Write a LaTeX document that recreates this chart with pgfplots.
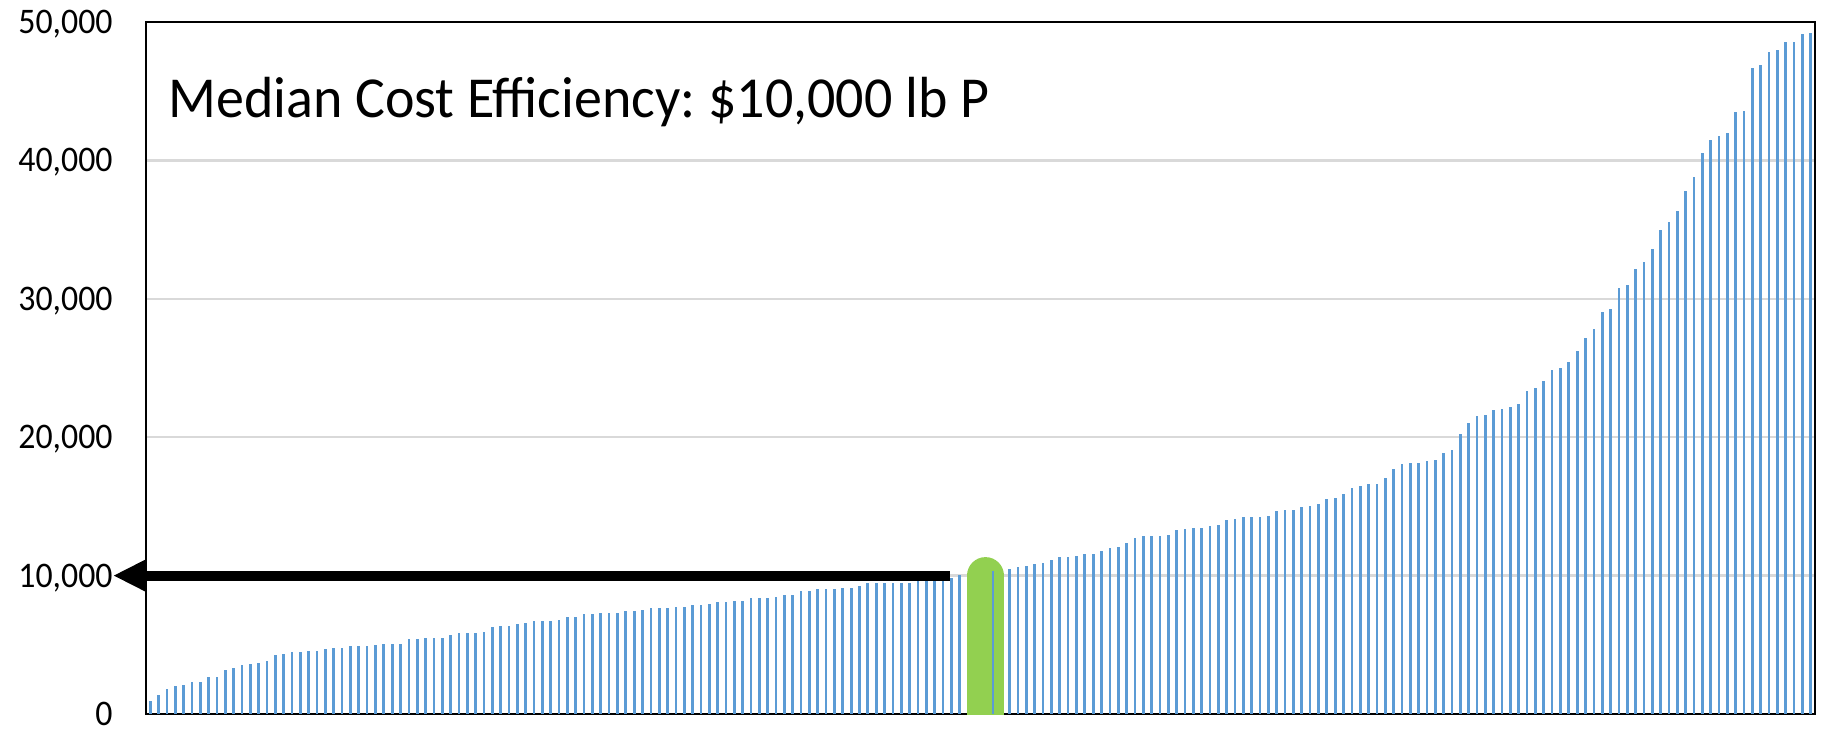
\documentclass[border=0pt]{standalone}
\usepackage{fontspec}
\setmainfont{Carlito}
\newfontfamily\titlefont[FakeStretch=0.965]{Carlito}
\newfontfamily\tickfont[FakeStretch=0.94]{Carlito}
\usepackage{pgfplots}
\pgfplotsset{compat=1.18}
\usepackage{pgfplotstable}
\usetikzlibrary{arrows.meta}
\definecolor{barblue}{RGB}{91,155,213}
\definecolor{medgreen}{RGB}{146,208,80}
\definecolor{gridgray}{RGB}{217,217,217}
\frenchspacing

\pgfplotstableread{
x y
1 960
2 1400
3 1830
4 2030
5 2120
6 2340
7 2340
8 2680
9 2680
10 3200
11 3300
12 3520
13 3620
14 3710
15 3830
16 4240
17 4340
18 4460
19 4460
20 4580
21 4580
22 4670
23 4770
24 4770
25 4890
26 4890
27 4890
28 4990
29 5080
30 5080
31 5080
32 5420
33 5420
34 5520
35 5520
36 5520
37 5730
38 5860
39 5860
40 5860
41 5950
42 6260
43 6360
44 6360
45 6480
46 6580
47 6700
48 6700
49 6700
50 6800
51 7020
52 7020
53 7230
54 7230
55 7330
56 7330
57 7330
58 7450
59 7450
60 7540
61 7670
62 7670
63 7670
64 7760
65 7760
66 7860
67 7860
68 7960
69 8070
70 8070
71 8170
72 8170
73 8390
74 8390
75 8390
76 8480
77 8600
78 8600
79 8920
80 8920
81 9040
82 9040
83 9040
84 9130
85 9130
86 9230
87 9450
88 9450
89 9450
90 9450
91 9450
92 9450
93 9760
94 9760
95 9760
96 9760
97 9850
98 10050
99 10050
100 10100
101 10200
102 10310
103 10310
104 10480
105 10600
106 10700
107 10820
108 10940
109 11140
110 11350
111 11350
112 11450
113 11570
114 11570
115 11760
116 11980
117 12100
118 12320
119 12730
120 12850
121 12850
122 12850
123 12940
124 13260
125 13350
126 13470
127 13470
128 13590
129 13690
130 14000
131 14100
132 14220
133 14220
134 14220
135 14330
136 14640
137 14750
138 14750
139 14940
140 15060
141 15180
142 15500
143 15590
144 15910
145 16310
146 16440
147 16650
148 16650
149 17070
150 17690
151 18030
152 18150
153 18150
154 18250
155 18340
156 18870
157 19090
158 20250
159 21020
160 21550
161 21640
162 21960
163 22050
164 22170
165 22370
166 23360
167 23550
168 24080
169 24820
170 25020
171 25450
172 26200
173 27160
174 27790
175 29070
176 29280
177 30780
178 30970
179 32150
180 32660
181 33620
182 35000
183 35550
184 36370
185 37770
186 38800
187 40540
188 41480
189 41790
190 41980
191 43500
192 43600
193 46680
194 46880
195 47840
196 47960
197 48560
198 48560
199 49120
200 49240
}\costdata

\begin{document}
\begin{tikzpicture}
\begin{axis}[
  scale only axis,
  width=834.5pt, height=346pt,
  xmin=0.5, xmax=200.5, ymin=0, ymax=50000,
  xtick=\empty,
  ytick={0,10000,20000,30000,40000,50000},
  ymajorgrids,
  grid style={gridgray, line width=1.25pt},
  major tick length=0pt,
  axis line style={black, line width=1.1pt},
  yticklabel style={font=\tickfont\fontsize{18}{20}\selectfont, inner sep=0pt, xshift=-16.5pt, text height=11.4pt, text depth=0pt},
  scaled y ticks=false,
  /pgf/number format/assume math mode=true,
  /pgf/number format/1000 sep={,},
  /pgf/number format/fixed,
]
\addplot[ycomb, no markers, barblue, line width=1.35pt] table[x=x, y=y] {\costdata};
\addplot[ycomb, no markers, medgreen, line width=18.5pt, line cap=round] coordinates {(101.1,10000)};
\addplot[ycomb, no markers, barblue, line width=1.35pt] coordinates {(102,10310)};
\node[anchor=base west, inner sep=0pt, xshift=11pt, yshift=-47.5pt, font=\titlefont\fontsize{29}{34}\selectfont] at (rel axis cs:0,1) {Median Cost Efficiency: \$10,000 lb P};
\coordinate (arrS) at (axis cs:96.84,10000);
\coordinate (arrE) at (axis cs:-3.45,10000);
\coordinate (bbSW) at (rel axis cs:0,0);
\end{axis}
\draw[line width=5pt, -{Triangle[length=16.5pt,width=15pt]}] (arrS) -- (arrE);
\pgfresetboundingbox
\path ([shift={(-73pt,-7.5pt)}]bbSW) rectangle ([shift={(840pt,357pt)}]bbSW);
\end{tikzpicture}
\end{document}
